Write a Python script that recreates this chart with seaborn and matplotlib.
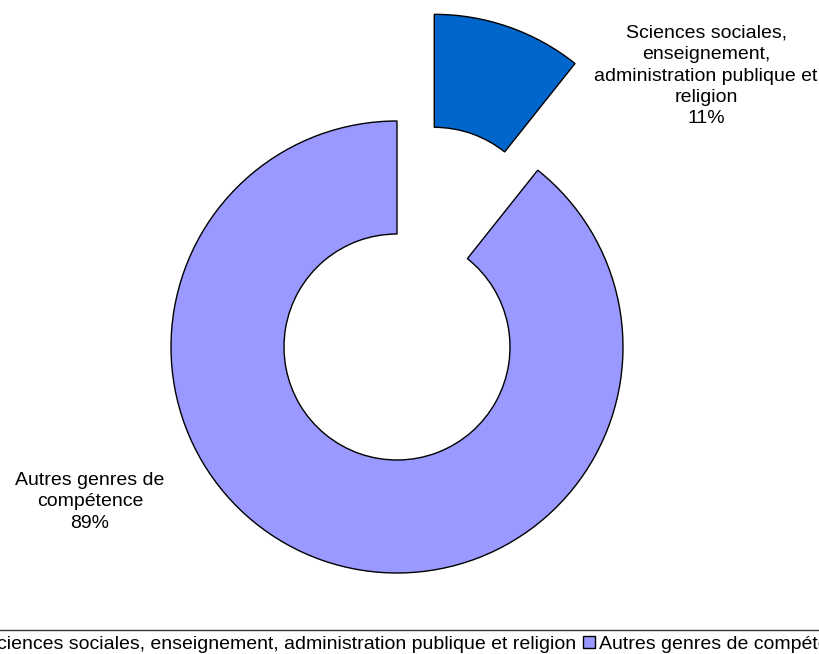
import matplotlib
matplotlib.use("Agg")
import matplotlib.pyplot as plt
import seaborn as sns

categories = ["Sciences sociales, enseignement, administration publique et religion",
              "Autres genres de compétence"]
labels_wrapped = ["Sciences sociales,\nenseignement,\nadministration publique et\nreligion",
                  "Autres genres de\ncompétence"]
values = [10.7, 89.3]
colors = ["#0066CC", "#9999FF"]
explode = [0.5, 0.0]

sns.set_theme(style="white")
plt.rcParams["font.family"] = ["Liberation Sans", "DejaVu Sans"]

W, H = 820, 654
fig = plt.figure(figsize=(W / 100, H / 100), dpi=100)
ax = fig.add_axes([0, 0, 1, 1])
cx, cy, R = 397, 347, 226

wedges, _ = ax.pie(values, colors=colors, startangle=90, counterclock=False,
                   explode=explode, radius=1.0,
                   wedgeprops=dict(width=0.5, edgecolor="black", linewidth=1.0))
ax.set_xlim(-cx / R, (W - cx) / R)
ax.set_ylim(-(H - cy) / R, cy / R)
ax.set_aspect("equal")
ax.axis("off")

# labels
lbl_pos = [((706 - cx) / R, (cy - 76) / R), ((90 - cx) / R, (cy - 502) / R)]
for (x, y), t, v in zip(lbl_pos, labels_wrapped, values):
    ax.text(x, y, f"{t}\n{round(v)}%", ha="center", va="center", fontsize=14,
            linespacing=1.33, color="black")

leg = fig.legend(wedges, categories, loc="upper center", ncol=2,
                 bbox_to_anchor=(0.505, 1 - 630 / H), frameon=True, fontsize=14,
                 handlelength=0.6, handleheight=0.6, handletextpad=0.2,
                 columnspacing=0.35, borderpad=0.3, borderaxespad=0,
                 fancybox=False, labelcolor="black")
leg.get_frame().set_edgecolor("black")
leg.get_frame().set_linewidth(1.0)

fig.savefig("out.png", dpi=100)
